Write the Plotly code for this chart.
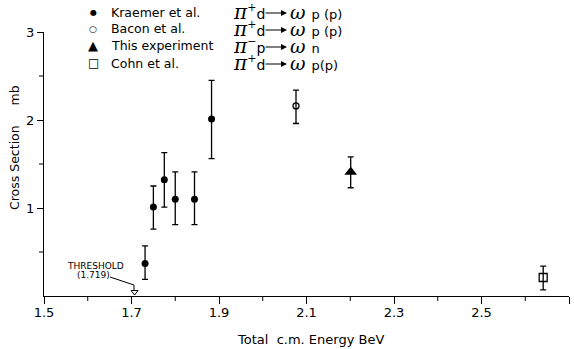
import plotly.graph_objects as go

# ---- data ----
kr_x = [1.731, 1.750, 1.775, 1.800, 1.844, 1.883]
kr_y = [0.37, 1.01, 1.32, 1.10, 1.10, 2.01]
kr_hi = [0.57, 1.25, 1.63, 1.41, 1.41, 2.45]
kr_lo = [0.19, 0.76, 1.01, 0.81, 0.81, 1.56]

bacon_x = [2.076]
bacon_y = [2.16]
bacon_hi = [2.34]
bacon_lo = [1.96]

this_x = [2.201]
this_y = [1.41]
this_hi = [1.58]
this_lo = [1.23]

cohn_x = [2.641]
cohn_y = [0.21]
cohn_hi = [0.34]
cohn_lo = [0.07]

threshold_x = [1.707]
threshold_y = [0.045]

x_ticks = [1.5, 1.7, 1.9, 2.1, 2.3, 2.5, 2.7]
x_minor = [1.6, 1.8, 2.0, 2.2, 2.4, 2.6]
y_ticks = [1, 2, 3]
y_minor = [0.5, 1.5, 2.5]

legend_names = ["Kraemer et al.", "Bacon et al.", "This experiment", "Cohn et al."]
legend_syms = ["●", "○", "▲", "□"]
reactions = [("π", "+", "d", "ω", "p (p)"),
             ("π", "+", "d", "ω", "p (p)"),
             ("π", "−", "p", "ω", "n"),
             ("π", "+", "d", "ω", "p(p)")]

FONT = "DejaVu Sans"
W, H = 574, 349
L, R, T, B = 44, 5, 32, 53


def err(y, hi, lo):
    return dict(type="data", symmetric=False,
                array=[h - v for h, v in zip(hi, y)],
                arrayminus=[v - l for v, l in zip(y, lo)],
                color="black", thickness=1.3, width=3)


fig = go.Figure()
fig.add_trace(go.Scatter(x=kr_x, y=kr_y, mode="markers",
                         marker=dict(symbol="circle", size=7, color="black"),
                         error_y=err(kr_y, kr_hi, kr_lo), cliponaxis=False))
fig.add_trace(go.Scatter(x=bacon_x, y=bacon_y, mode="markers",
                         marker=dict(symbol="circle-open", size=6, color="black",
                                     line=dict(width=1.3)),
                         error_y=err(bacon_y, bacon_hi, bacon_lo), cliponaxis=False))
fig.add_trace(go.Scatter(x=this_x, y=this_y, mode="markers",
                         marker=dict(symbol="triangle-up", size=11, color="black"),
                         error_y=err(this_y, this_hi, this_lo), cliponaxis=False))
fig.add_trace(go.Scatter(x=cohn_x, y=cohn_y, mode="markers",
                         marker=dict(symbol="square-open", size=8, color="black",
                                     line=dict(width=1.3)),
                         error_y=err(cohn_y, cohn_hi, cohn_lo), cliponaxis=False))
fig.add_trace(go.Scatter(x=threshold_x, y=threshold_y, mode="markers",
                         marker=dict(symbol="triangle-down-open", size=6, color="black",
                                     line=dict(width=1)),
                         cliponaxis=False))


def px2paper(px, py):
    return (px - L) / (W - L - R), (H - B - py) / (H - T - B)


def text_ann(px, py, text, size, family=FONT, xanchor="center", angle=0):
    x, y = px2paper(px, py)
    return dict(x=x, y=y, xref="paper", yref="paper", text=text, showarrow=False,
                xanchor=xanchor, yanchor="middle", textangle=angle,
                font=dict(family=family, size=size, color="black"))


ann = []
shapes = []
rows_y = [12, 29, 46, 63]
sym_sizes = [8, 9, 13, 12]
for i, yy in enumerate(rows_y):
    ann.append(text_ann(93, yy, legend_syms[i], sym_sizes[i]))
    ann.append(text_ann(109, yy, legend_names[i], 12.5, xanchor="left"))
    pi, ch, tgt, om, rest = reactions[i]
    ann.append(text_ann(231, yy,
                        f"<i>{pi}</i><sup><span style='font-size:11px'>{ch}</span></sup>"
                        f"<span style='font-family:DejaVu Sans;font-size:14px'>{tgt}</span>",
                        20, family="DejaVu Serif", xanchor="left"))
    ax1, ay1 = px2paper(287, yy + 1)
    ann.append(dict(x=ax1, y=ay1, xref="paper", yref="paper", ax=-23, ay=0,
                    axref="pixel", ayref="pixel", text="", showarrow=True,
                    arrowhead=2, arrowsize=1, arrowwidth=1.2, arrowcolor="black"))
    ann.append(text_ann(288, yy, f"<i>{om}</i> <span style='font-size:13px;font-family:DejaVu Sans'>{rest}</span>",
                        19, family="DejaVu Serif", xanchor="left"))

# threshold label
ann.append(text_ann(95, 266, "THRESHOLD", 9))
ann.append(text_ann(93, 275, "(1.719)", 9))
p0 = px2paper(110, 277)
p1 = px2paper(134, 285)
p2 = px2paper(134, 290)
shapes.append(dict(type="path", xref="paper", yref="paper",
                   path=f"M {p0[0]},{p0[1]} L {p1[0]},{p1[1]} L {p2[0]},{p2[1]}",
                   line=dict(color="black", width=1)))

# axis titles
ann.append(text_ann(14, 148, "Cross Section&nbsp;&nbsp;&nbsp;&nbsp;&nbsp;mb", 12.5, angle=-90))
ann.append(text_ann(310, 339, "Total&nbsp; c.m. Energy BeV", 13))

# minor ticks
for v in x_minor:
    shapes.append(dict(type="line", xref="x", yref="paper", x0=v, x1=v,
                       y0=0, y1=-5 / (H - T - B), line=dict(color="black", width=1)))
for v in y_minor:
    shapes.append(dict(type="line", xref="paper", yref="y", y0=v, y1=v,
                       x0=0, x1=-5 / (W - L - R), line=dict(color="black", width=1)))

fig.update_layout(
    width=W, height=H, margin=dict(l=L, r=R, t=T, b=B),
    paper_bgcolor="white", plot_bgcolor="white", showlegend=False,
    annotations=ann, shapes=shapes,
    xaxis=dict(range=[1.5, 2.7], tickvals=x_ticks,
               showgrid=False, zeroline=False, showline=True, linecolor="black", linewidth=1.2,
               ticks="outside", ticklen=7, tickwidth=1.2, tickcolor="black",
               ticklabelstandoff=-3,
               tickfont=dict(family=FONT, size=13, color="black")),
    yaxis=dict(range=[0, 3], tickvals=y_ticks, showgrid=False, zeroline=False,
               showline=True, linecolor="black", linewidth=1.2,
               ticks="outside", ticklen=6, tickwidth=1.2, tickcolor="black",
               tickfont=dict(family=FONT, size=13, color="black")),
)

fig.write_html("out.html")
